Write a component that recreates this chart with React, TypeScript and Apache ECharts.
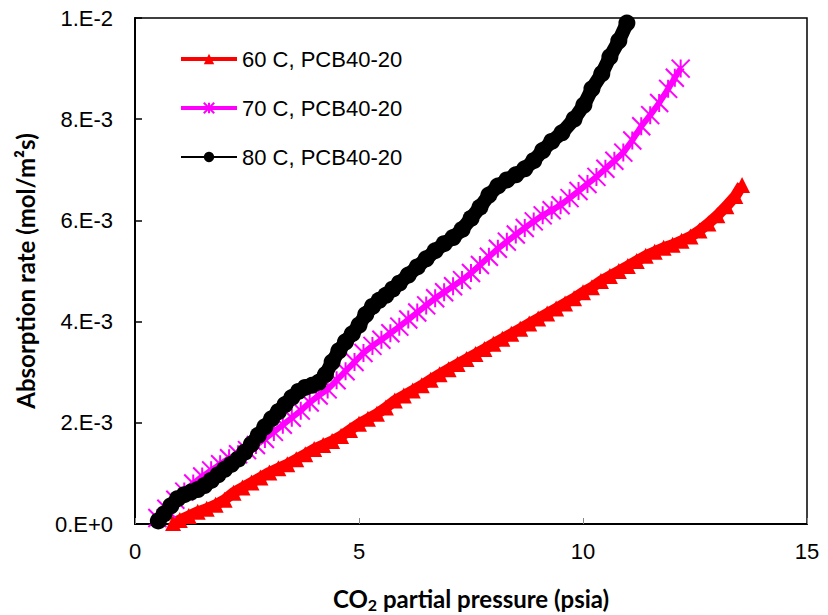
import React, { useEffect, useRef } from "react";
import * as echarts from "echarts";

const seriesNames = ["60 C, PCB40-20", "70 C, PCB40-20", "80 C, PCB40-20"];

// x: CO2 partial pressure (psia), y: absorption rate ×1e-3 mol/m²s
const red60: number[][] = [
  [0.85, 0.02], [1.0, 0.08], [1.2, 0.16], [1.4, 0.24], [1.6, 0.3], [1.8, 0.38], [2.0, 0.48],
  [2.2, 0.62], [2.4, 0.72], [2.6, 0.82], [2.8, 0.92], [3.0, 1.02], [3.2, 1.1], [3.4, 1.18],
  [3.6, 1.28], [3.8, 1.38], [4.0, 1.48], [4.2, 1.56], [4.4, 1.64], [4.6, 1.74], [4.8, 1.86],
  [5.0, 1.98], [5.2, 2.08], [5.4, 2.18], [5.6, 2.3], [5.8, 2.44], [6.0, 2.54], [6.2, 2.64],
  [6.4, 2.74], [6.6, 2.85], [6.8, 2.96], [7.0, 3.06], [7.2, 3.16], [7.4, 3.26], [7.6, 3.36],
  [7.8, 3.46], [8.0, 3.56], [8.2, 3.66], [8.4, 3.76], [8.6, 3.86], [8.8, 3.96], [9.0, 4.06],
  [9.2, 4.16], [9.4, 4.26], [9.6, 4.36], [9.8, 4.46], [10.0, 4.58], [10.2, 4.68], [10.4, 4.8],
  [10.6, 4.9], [10.8, 5.0], [11.0, 5.1], [11.2, 5.2], [11.4, 5.3], [11.6, 5.38], [11.8, 5.46],
  [12.0, 5.52], [12.2, 5.6], [12.4, 5.68], [12.6, 5.8], [12.8, 5.94], [13.0, 6.1], [13.2, 6.28],
  [13.4, 6.48], [13.55, 6.7],
];

const magenta70: number[][] = [
  [0.5, 0.12], [0.7, 0.3], [0.9, 0.48], [1.1, 0.64], [1.3, 0.8], [1.5, 0.94], [1.7, 1.06],
  [1.9, 1.18], [2.1, 1.3], [2.3, 1.38], [2.5, 1.46], [2.7, 1.56], [2.9, 1.68], [3.1, 1.82],
  [3.3, 1.96], [3.5, 2.1], [3.7, 2.24], [3.9, 2.4], [4.1, 2.54], [4.3, 2.66], [4.5, 2.84],
  [4.7, 3.02], [4.9, 3.2], [5.1, 3.38], [5.3, 3.52], [5.5, 3.64], [5.7, 3.77], [5.9, 3.9],
  [6.1, 4.04], [6.3, 4.18], [6.5, 4.32], [6.7, 4.46], [6.9, 4.58], [7.1, 4.7], [7.3, 4.82],
  [7.5, 4.96], [7.7, 5.12], [7.9, 5.28], [8.1, 5.44], [8.3, 5.58], [8.5, 5.72], [8.7, 5.85],
  [8.9, 5.98], [9.1, 6.1], [9.3, 6.2], [9.5, 6.3], [9.7, 6.44], [9.9, 6.58], [10.1, 6.72],
  [10.3, 6.86], [10.5, 7.02], [10.7, 7.18], [10.9, 7.34], [11.1, 7.58], [11.3, 7.86],
  [11.5, 8.08], [11.7, 8.32], [11.9, 8.6], [12.05, 8.82], [12.18, 9.0],
];

const black80: number[][] = [
  [0.52, 0.06], [0.65, 0.2], [0.8, 0.36], [0.95, 0.5], [1.1, 0.58], [1.25, 0.63], [1.4, 0.68],
  [1.55, 0.76], [1.7, 0.86], [1.85, 0.97], [2.0, 1.08], [2.15, 1.18], [2.3, 1.28], [2.45, 1.42],
  [2.6, 1.58], [2.75, 1.75], [2.9, 1.92], [3.05, 2.08], [3.2, 2.22], [3.35, 2.36], [3.5, 2.5],
  [3.65, 2.62], [3.8, 2.7], [3.95, 2.74], [4.1, 2.8], [4.25, 2.95], [4.4, 3.2], [4.55, 3.42],
  [4.7, 3.6], [4.85, 3.76], [5.0, 3.93], [5.15, 4.14], [5.3, 4.3], [5.45, 4.42], [5.6, 4.52],
  [5.75, 4.64], [5.9, 4.76], [6.1, 4.92], [6.3, 5.08], [6.5, 5.24], [6.7, 5.4], [6.9, 5.54],
  [7.1, 5.66], [7.3, 5.82], [7.5, 6.04], [7.7, 6.26], [7.9, 6.5], [8.1, 6.68], [8.3, 6.8],
  [8.5, 6.9], [8.7, 7.02], [8.9, 7.18], [9.1, 7.38], [9.3, 7.56], [9.53, 7.73], [9.8, 8.0],
  [10.02, 8.28], [10.2, 8.6], [10.42, 8.9], [10.6, 9.23], [10.8, 9.55], [10.98, 9.9],
];

const yTickLabels = ["0.E+0", "2.E-3", "4.E-3", "6.E-3", "8.E-3", "1.E-2"];
const xTicks = { min: 0, max: 15, interval: 5 };

const STAR = "path://M0 0L10 10M10 0L0 10M5 0L5 10";

const toSI = (arr: number[][]) => arr.map(([x, y]) => [x, y / 1000]);

export default function App() {
  const ref = useRef<HTMLDivElement>(null);
  useEffect(() => {
    if (!ref.current) return;
    const chart = echarts.init(ref.current, undefined, { renderer: "svg" });
    const tickFont = { fontFamily: "Liberation Sans", fontSize: 22, color: "#000" };
    chart.setOption({
      animation: false,
      backgroundColor: "#fff",
      grid: {
        left: 135, right: 21, top: 18, bottom: 91,
        show: true, borderColor: "#000", borderWidth: 1.5, containLabel: false,
        outerBoundsMode: "none",
      },
      legend: {
        orient: "vertical",
        left: 174,
        top: 43,
        itemWidth: 56,
        itemHeight: 13,
        itemGap: 27,
        textStyle: { fontFamily: "Liberation Sans", fontSize: 22, color: "#000" },
        data: [
          { name: seriesNames[0], lineStyle: { width: 4 } },
          { name: seriesNames[1], lineStyle: { width: 4 } },
          { name: seriesNames[2], lineStyle: { width: 2 } },
        ],
      },
      xAxis: {
        type: "value",
        min: xTicks.min, max: xTicks.max, interval: xTicks.interval,
        axisLine: { lineStyle: { color: "#000", width: 2 } },
        axisTick: { inside: true, length: 6, lineStyle: { color: "#888", width: 1 } },
        splitLine: { show: false },
        axisLabel: { ...tickFont, margin: 16 },
        name: "{a|CO}{s|2}{a| partial pressure (psia)}",
        nameLocation: "middle",
        nameGap: 60,
        nameTextStyle: {
          rich: {
            a: { fontFamily: "Lato", fontWeight: "bold", fontSize: 24, color: "#000" },
            s: { fontFamily: "Lato", fontWeight: "bold", fontSize: 16, color: "#000", padding: [12, 0, 0, 0] },
          },
        },
      },
      yAxis: {
        type: "value",
        min: 0, max: 0.01, interval: 0.002,
        axisLine: { show: true, lineStyle: { color: "#000", width: 2 } },
        axisTick: { show: true, inside: true, length: 7, lineStyle: { color: "#000", width: 1.5 } },
        splitLine: { show: false },
        axisLabel: {
          ...tickFont,
          margin: 22,
          formatter: (v: number) => yTickLabels[Math.round(v / 0.002)] ?? "",
        },
        name: "Absorption rate (mol/m²s)",
        nameLocation: "middle",
        nameGap: 98,
        nameTextStyle: { fontFamily: "Lato", fontWeight: "bold", fontSize: 24, color: "#000" },
      },
      series: [
        {
          name: seriesNames[0],
          type: "line",
          data: toSI(red60),
          symbol: "triangle",
          symbolSize: 16,
          lineStyle: { color: "#FF0000", width: 11 },
          itemStyle: { color: "#FF0000", borderColor: "#FF0000", borderWidth: 0 },
        },
        {
          name: seriesNames[1],
          type: "line",
          data: toSI(magenta70),
          symbol: STAR,
          symbolSize: 18,
          lineStyle: { color: "#FF00FF", width: 6 },
          itemStyle: { color: "#FF00FF", borderColor: "#FF00FF", borderWidth: 2 },
        },
        {
          name: seriesNames[2],
          type: "line",
          data: toSI(black80),
          symbol: "circle",
          symbolSize: 17,
          lineStyle: { color: "#000", width: 14 },
          itemStyle: { color: "#000", borderColor: "#000", borderWidth: 0 },
        },
      ],
    });
    return () => chart.dispose();
  }, []);
  return <div ref={ref} style={{ width: 828, height: 615, position: "absolute", left: 0, top: 0 }} />;
}
